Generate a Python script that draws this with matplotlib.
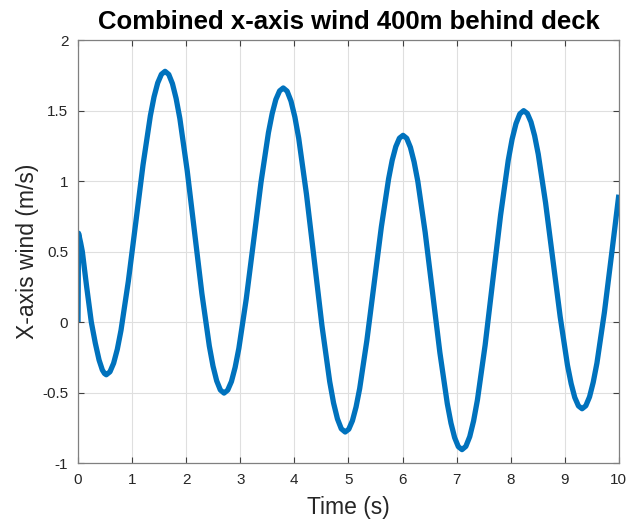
import matplotlib
matplotlib.use('Agg')
import matplotlib.pyplot as plt

# wind trace (time in s, wind in m/s)
time_s = [0.0, 0.01, 0.05, 0.08, 0.16, 0.246, 0.32, 0.39, 0.45, 0.49, 0.523,
          0.591, 0.659, 0.727, 0.795, 0.931, 1.067, 1.202, 1.338, 1.406, 1.474, 1.542, 1.61,
          1.678, 1.746, 1.814, 1.883, 2.019, 2.155, 2.291, 2.428, 2.496, 2.564, 2.632, 2.70,
          2.768, 2.837, 2.905, 2.974, 3.111, 3.248, 3.384, 3.521, 3.590, 3.658, 3.727, 3.795,
          3.867, 3.938, 4.010, 4.081, 4.224, 4.368, 4.511, 4.654, 4.725, 4.797, 4.868, 4.94,
          5.007, 5.074, 5.141, 5.208, 5.341, 5.475, 5.609, 5.743, 5.809, 5.876, 5.943, 6.01,
          6.078, 6.146, 6.214, 6.283, 6.419, 6.555, 6.691, 6.828, 6.896, 6.964, 7.032, 7.10,
          7.171, 7.243, 7.314, 7.385, 7.528, 7.670, 7.813, 7.955, 8.026, 8.098, 8.169, 8.24,
          8.308, 8.375, 8.443, 8.51, 8.645, 8.78, 8.915, 9.05, 9.118, 9.185, 9.253, 9.32,
          9.389, 9.458, 9.526, 9.595, 9.733, 9.87, 10.0]
wind = [0.0, 0.63, 0.56, 0.50, 0.25, 0.0, -0.15, -0.27, -0.34, -0.365, -0.374,
        -0.353, -0.292, -0.193, -0.059, 0.290, 0.702, 1.114, 1.463, 1.597, 1.696, 1.757, 1.778,
        1.756, 1.691, 1.586, 1.444, 1.074, 0.637, 0.201, -0.170, -0.312, -0.417, -0.482, -0.504,
        -0.483, -0.422, -0.322, -0.187, 0.164, 0.578, 0.992, 1.343, 1.478, 1.578, 1.639, 1.66,
        1.637, 1.567, 1.454, 1.303, 0.907, 0.440, -0.027, -0.423, -0.574, -0.687, -0.757, -0.78,
        -0.760, -0.700, -0.603, -0.472, -0.131, 0.272, 0.675, 1.016, 1.147, 1.244, 1.304, 1.324,
        1.303, 1.239, 1.136, 0.998, 0.636, 0.210, -0.217, -0.579, -0.717, -0.820, -0.884, -0.905,
        -0.882, -0.813, -0.702, -0.553, -0.163, 0.297, 0.757, 1.147, 1.296, 1.407, 1.476, 1.499,
        1.479, 1.419, 1.321, 1.190, 0.846, 0.442, 0.038, -0.306, -0.437, -0.535, -0.595, -0.615,
        -0.594, -0.531, -0.428, -0.291, 0.069, 0.493, 0.903]

x_ticks = [0, 1, 2, 3, 4, 5, 6, 7, 8, 9, 10]
y_ticks = [-1, -0.5, 0, 0.5, 1, 1.5, 2]
y_tick_labels = ['-1', '-0.5', '0', '0.5', '1', '1.5', '2']

plt.rcParams['font.family'] = ['Liberation Sans', 'DejaVu Sans']

fig = plt.figure(figsize=(6.27, 5.22), dpi=100)
ax = fig.add_axes([0.1244, 0.113, 0.8626, 0.8103])

ax.plot(time_s, wind, color='#0072BD', linewidth=3.8,
        solid_joinstyle='round', solid_capstyle='butt')

ax.set_xlim(0, 10)
ax.set_ylim(-1, 2)
ax.set_xticks(x_ticks)
ax.set_yticks(y_ticks)
ax.set_yticklabels(y_tick_labels)
ax.grid(True, color='#dfdfdf', linewidth=0.8)
ax.set_axisbelow(True)

ax.tick_params(direction='in', top=True, right=True, length=4, pad=7,
               labelsize=11, colors='#404040', labelcolor='#262626')
for s in ax.spines.values():
    s.set_color('#808080')
    s.set_linewidth(0.9)

ax.set_title('Combined x-axis wind 400m behind deck', fontsize=18.5,
             fontweight='bold', color='black', pad=8)
ax.set_xlabel('Time (s)', fontsize=16.5, color='#262626', labelpad=7)
ax.set_ylabel('X-axis wind (m/s)', fontsize=16.5, color='#262626', labelpad=2)

fig.savefig('out.png', dpi=100)
